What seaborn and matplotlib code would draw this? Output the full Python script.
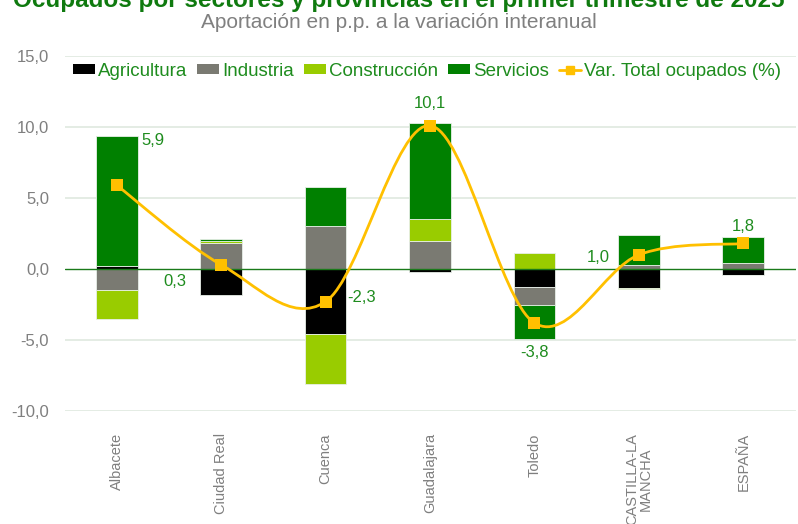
import numpy as np
import pandas as pd
import matplotlib
matplotlib.use("Agg")
import matplotlib.pyplot as plt
from matplotlib.path import Path
from matplotlib.patches import PathPatch, Patch
from matplotlib.lines import Line2D
from matplotlib import font_manager as fm
import seaborn as sns

# ---------------- data ----------------
categories = ["Albacete", "Ciudad Real", "Cuenca", "Guadalajara", "Toledo",
              "CASTILLA-LA\nMANCHA", "ESPAÑA"]
agricultura  = [0.2, -1.8, -4.6, -0.2, -1.3, -1.35, -0.4]
industria    = [-1.5, 1.8, 3.0, 1.95, -1.25, 0.3, 0.45]
construccion = [-2.0, 0.15, -3.5, 1.6, 1.1, -0.05, -0.05]
servicios    = [9.2, 0.15, 2.8, 6.75, -2.35, 2.1, 1.8]
var_total    = [5.9, 0.3, -2.3, 10.1, -3.8, 1.0, 1.8]
var_labels   = ["5,9", "0,3", "-2,3", "10,1", "-3,8", "1,0", "1,8"]
series_names = ["Agricultura", "Industria", "Construcción", "Servicios"]
line_name = "Var. Total ocupados (%)"
yticks = [-10, -5, 0, 5, 10, 15]
ytick_labels = ["-10,0", "-5,0", "0,0", "5,0", "10,0", "15,0"]
title = "Ocupados por sectores y provincias en el primer trimestre de 2025"
subtitle = "Aportación en p.p. a la variación interanual"

# ---------------- style ----------------
colors = ["#000000", "#7a7a72", "#99cc00", "#008000"]
line_color = "#ffc000"
green_text = "#1e8c1e"
grey_text = "#7f7f7f"

sns.set_theme(style="white")
avail = {f.name for f in fm.fontManager.ttflist}
base_font = "Liberation Sans" if "Liberation Sans" in avail else "DejaVu Sans"
narrow_font = "Liberation Sans Narrow" if "Liberation Sans Narrow" in avail else base_font
plt.rcParams["font.family"] = [base_font, "DejaVu Sans"]

fig = plt.figure(figsize=(7.98, 5.24), dpi=100)
ax = fig.add_axes([64.5 / 798, 1 - 411 / 524, (795.5 - 64.5) / 798, (411 - 56) / 524])

df = pd.DataFrame({"cat": categories, "Agricultura": agricultura, "Industria": industria,
                   "Construcción": construccion, "Servicios": servicios,
                   "var": var_total})
x = np.arange(len(categories))

pos_bottom = np.zeros(len(categories))
neg_bottom = np.zeros(len(categories))
for name, col in zip(series_names, colors):
    vals = df[name].to_numpy()
    bottoms = np.where(vals >= 0, pos_bottom, neg_bottom)
    ax.bar(x, vals, bottom=bottoms, width=0.4, color=col,
           edgecolor="#e8efe8", linewidth=0.6, zorder=3)
    pos_bottom = pos_bottom + np.where(vals >= 0, vals, 0)
    neg_bottom = neg_bottom + np.where(vals < 0, vals, 0)

# smoothed line (Bezier through the points, Catmull-Rom style like Excel)
yv = df["var"].to_numpy()
n = len(yv)
verts = [(x[0], yv[0])]
codes = [Path.MOVETO]
for i in range(n - 1):
    y0 = yv[i - 1] if i > 0 else yv[i]
    y3 = yv[i + 2] if i + 2 < n else yv[i + 1]
    x0 = x[i - 1] if i > 0 else x[i]
    x3 = x[i + 2] if i + 2 < n else x[i + 1]
    c1 = (x[i] + (x[i + 1] - x0) / 6, yv[i] + (yv[i + 1] - y0) / 6)
    c2 = (x[i + 1] - (x3 - x[i]) / 6, yv[i + 1] - (y3 - yv[i]) / 6)
    verts += [c1, c2, (x[i + 1], yv[i + 1])]
    codes += [Path.CURVE4] * 3
ax.add_patch(PathPatch(Path(verts, codes), facecolor="none", edgecolor=line_color,
                       linewidth=2.0, zorder=4))
sns.scatterplot(x=x, y=yv, marker="s", s=70, color=line_color, edgecolor=line_color,
                linewidth=0, ax=ax, zorder=5, legend=False)

# data labels (offsets in points, label centre relative to marker)
offsets = [(26, 32), (-33, -12), (26, 3), (0, 16), (0, -21), (-29.5, -2), (0, 12)]
for xi, yi, lab, (dx, dy) in zip(x, yv, var_labels, offsets):
    ax.annotate(lab, (xi, yi), xytext=(dx, dy), textcoords="offset points",
                ha="center", va="center", color=green_text, fontsize=12, zorder=6)

# axes
ax.set_xlim(-0.5, len(categories) - 0.5)
ax.set_ylim(-10, 15)
ax.set_yticks(yticks)
ax.set_yticklabels(ytick_labels, color=grey_text, fontsize=12)
ax.set_xticks(x)
ax.set_xticklabels(categories, rotation=90, color=grey_text, fontsize=10.5,
                   linespacing=0.9)
ax.tick_params(axis="y", length=0, pad=11)
ax.tick_params(axis="x", length=0, pad=16)
for s in ax.spines.values():
    s.set_visible(False)
for yt in yticks:
    if yt != 0:
        ax.axhline(yt, color="#dfe9df", linewidth=1.2, zorder=1)
ax.axhline(0, color="#1a7a1a", linewidth=1.0, zorder=3.5)
ax.set_xlabel("")
ax.set_ylabel("")

# legend
handles = [Patch(facecolor=c, edgecolor="none") for c in colors]
handles.append(Line2D([0], [0], color=line_color, lw=2, marker="s", markersize=6))
leg = fig.legend(handles, series_names + [line_name], loc="center",
                 bbox_to_anchor=(0.535, 1 - 71 / 524), ncol=5, frameon=False,
                 fontsize=13.5, handlelength=1.17, handleheight=0.48, handletextpad=0.16,
                 columnspacing=0.53, borderaxespad=0)
for t in leg.get_texts():
    t.set_color(green_text)

# titles
fig.text(0.5, 1 - 7 / 524, title, ha="center", va="baseline", fontsize=17.5,
         fontweight="bold", color="#0f7a0f", family=[narrow_font, "DejaVu Sans"])
fig.text(0.5, 1 - 28 / 524, subtitle, ha="center", va="baseline", fontsize=15,
         color="#808080", family=[narrow_font, "DejaVu Sans"])

fig.savefig("out.png", dpi=100)
